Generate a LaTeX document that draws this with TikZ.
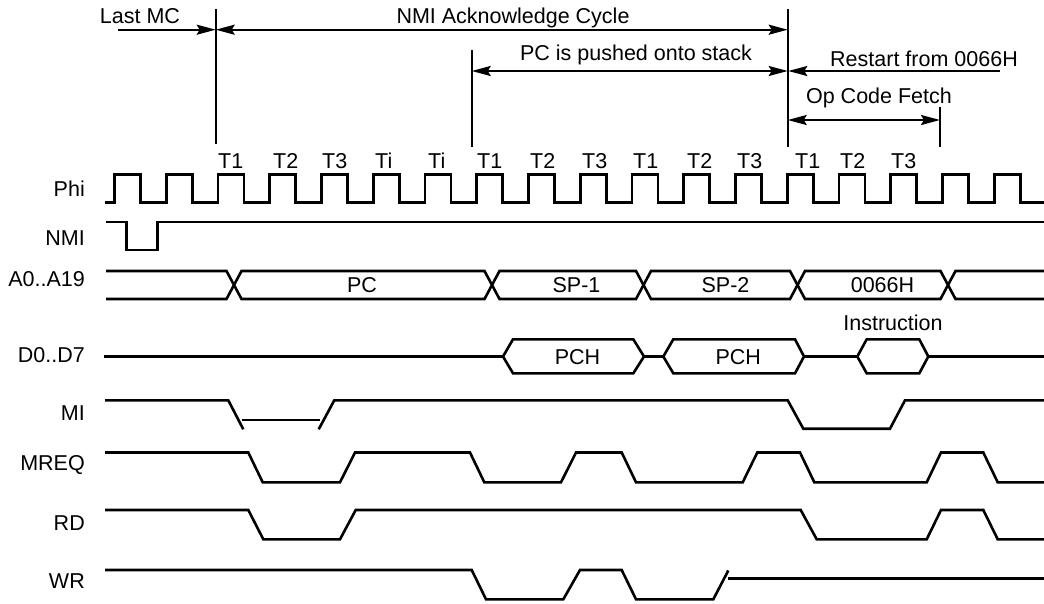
\documentclass[tikz,border=0pt]{standalone}
\usepackage{fontspec}
\setmainfont{Liberation Sans}
\usetikzlibrary{arrows.meta}
\begin{document}
\begin{tikzpicture}[x=1pt,y=-1pt,
  sig/.style={line width=2.6pt, line join=miter},
  marker/.style={line width=2.2pt},
  arrow tip/.style={},
  arr/.style={line width=2.2pt, -{Stealth[length=19pt,width=10pt,inset=3pt]}},
  darr/.style={line width=2.2pt, {Stealth[length=19pt,width=10pt,inset=3pt]}-{Stealth[length=19pt,width=10pt,inset=3pt]}},
  txt/.style={inner sep=0pt, font=\fontsize{21.5}{26}\selectfont},
  sname/.style={txt, anchor=base east},
  tlab/.style={txt, anchor=base west}]
\useasboundingbox (0,0) rectangle (1044,603);

% ---- marker lines ----
\coordinate (v1t) at (215.7,9.3);   \coordinate (v1b) at (215.7,144.3);
\coordinate (v2t) at (471.7,50);    \coordinate (v2b) at (471.7,147);
\coordinate (v3t) at (787.7,9.3);   \coordinate (v3b) at (787.7,147.3);
\coordinate (v4t) at (940,106.7);   \coordinate (v4b) at (940,147.3);
\draw[marker] (v1t) -- (v1b);
\draw[marker] (v2t) -- (v2b);
\draw[marker] (v3t) -- (v3b);
\draw[marker] (v4t) -- (v4b);

% ---- arrows ----
\coordinate (lmc) at (118,29.7);
\coordinate (a1) at (215.7,29.7);  \coordinate (a2) at (787.7,29.7);
\coordinate (p1) at (471.7,71);    \coordinate (p2) at (787.7,71);
\coordinate (r1) at (1000,71);     \coordinate (r2) at (788.3,71);
\coordinate (o1) at (787.7,120);   \coordinate (o2) at (940,120);
\draw[arr] (lmc) -- (a1);
\draw[darr] (a1) -- (a2);
\draw[darr] (p1) -- (p2);
\draw[arr] (r1) -- (r2);
\draw[darr] (o1) -- (o2);

% ---- top texts ----
\node[txt, anchor=base] (tlmc) at (140,23.3) {Last MC};
\node[txt, anchor=base] (tnmi) at (513,23.3) {NMI Acknowledge Cycle};
\node[txt, anchor=base] (tpc) at (636,60.7) {PC is pushed onto stack};
\node[txt, anchor=base west] (trs) at (830,66) {Restart from 0066H};
\node[txt, anchor=base] (tocf) at (879,103.3) {Op Code Fetch};

% ---- T state labels ----
\foreach \x/\t [count=\i] in {218/T1,273/T2,322/T3,375/Ti,428/Ti,477/T1,530/T2,582/T3,633/T1,687/T2,737/T3,795/T1,840/T2,891/T3}
  \node[tlab] (ts\i) at (\x,168) {\t};

% ---- signal names ----
\node[sname] (nphi) at (85,196.7) {Phi};
\node[sname] (nnmi) at (85,245) {NMI};
\node[sname] (nadr) at (85,286.7) {A0..A19};
\node[sname] (ndat) at (85,362.7) {D0..D7};
\node[sname] (nmi) at (85,420) {MI};
\node[sname] (nmreq) at (85,470.5) {MREQ};
\node[sname] (nrd) at (85,530) {RD};
\node[sname] (nwr) at (85,588.3) {WR};

% ---- Phi clock ----
\draw[sig] (105,202.5) foreach \k in {0,...,17}{
  -- ({114.5+51.75*\k},202.5) -- ({114.5+51.75*\k},174.5)
  -- ({140.5+51.75*\k},174.5) -- ({140.5+51.75*\k},202.5) } -- (1044,202.5);

% ---- NMI ----
\draw[sig] (106,222) -- (126.7,222) -- (126.7,250) -- (157.3,250) -- (157.3,222) -- (1044,222);

% ---- Address bus ----
\draw[sig] (106,271) -- (226.5,271) -- (241.5,299) -- (484.5,299) -- (499.5,271)
  -- (636,271) -- (651,299) -- (790,299) -- (805,271) -- (940.5,271) -- (955.5,299) -- (1044,299);
\draw[sig] (106,299) -- (226.5,299) -- (241.5,271) -- (484.5,271) -- (499.5,299)
  -- (636,299) -- (651,271) -- (790,271) -- (805,299) -- (940.5,299) -- (955.5,271) -- (1044,271);
\node[txt, anchor=base] (bpc) at (362,292.7) {PC};
\node[txt, anchor=base] (bsp1) at (576.5,292.7) {SP-1};
\node[txt, anchor=base] (bsp2) at (725.5,292.7) {SP-2};
\node[txt, anchor=base] (b66) at (882.5,292.7) {0066H};

% ---- Data bus ----
\draw[sig] (104.3,356.5) -- (503,356.5);
\draw[sig] (503,356.5) -- (513,339.3) -- (633.3,339.3) -- (644,356.5) -- (633.3,373.3) -- (513,373.3) -- cycle;
\draw[sig] (644,356.5) -- (663.3,356.5);
\draw[sig] (663.3,356.5) -- (673.3,339.3) -- (795,339.3) -- (804,356.5) -- (795,373.3) -- (673.3,373.3) -- cycle;
\draw[sig] (804,356.5) -- (857.3,356.5);
\draw[sig] (857.3,356.5) -- (866.7,339.3) -- (919.3,339.3) -- (928.3,356.5) -- (919.3,373.3) -- (866.7,373.3) -- cycle;
\draw[sig] (928.3,356.5) -- (1044,356.5);
\node[txt, anchor=base] (dpch1) at (577.5,364.3) {PCH};
\node[txt, anchor=base] (dpch2) at (738.3,364.3) {PCH};
\node[txt, anchor=base] (dins) at (893,330.7) {Instruction};

% ---- MI ----
\draw[sig] (105,400.3) -- (228.3,400.3) -- (243.3,429.3);
\draw[sig] (241.7,420) -- (320,420);
\draw[sig] (318.7,429.3) -- (334.3,400.3) -- (787.7,400.3) -- (803.3,428.7) -- (890,428.7) -- (905,400.3) -- (1044,400.3);

% ---- MREQ ----
\draw[sig] (105,452.5) -- (248.3,452.5) -- (262.7,482.3) -- (340,482.3) -- (355,452.5) -- (470,452.5)
  -- (484.3,482.3) -- (561,482.3) -- (576,452.5) -- (621.7,452.5) -- (636,482.3) -- (742.7,482.3)
  -- (757.3,452.5) -- (800,452.5) -- (814.3,482.3) -- (926.7,482.3) -- (941,452.5) -- (983.3,452.5)
  -- (997.7,482.3) -- (1044,482.3);

% ---- RD ----
\draw[sig] (105,510) -- (248.3,510) -- (263.3,539.3) -- (340,539.3) -- (355.7,510) -- (800.7,510)
  -- (816.7,539.3) -- (926.7,539.3) -- (941,510) -- (983.3,510) -- (997.7,539.3) -- (1044,539.3);

% ---- WR ----
\draw[sig] (105,570) -- (471.7,570) -- (486,599.3) -- (563.3,599.3) -- (580,570) -- (621.7,570)
  -- (636,599.3) -- (713.3,599.3) -- (728.3,570.5);
\draw[sig] (728.3,578.3) -- (1044,578.3);
\end{tikzpicture}
\end{document}
